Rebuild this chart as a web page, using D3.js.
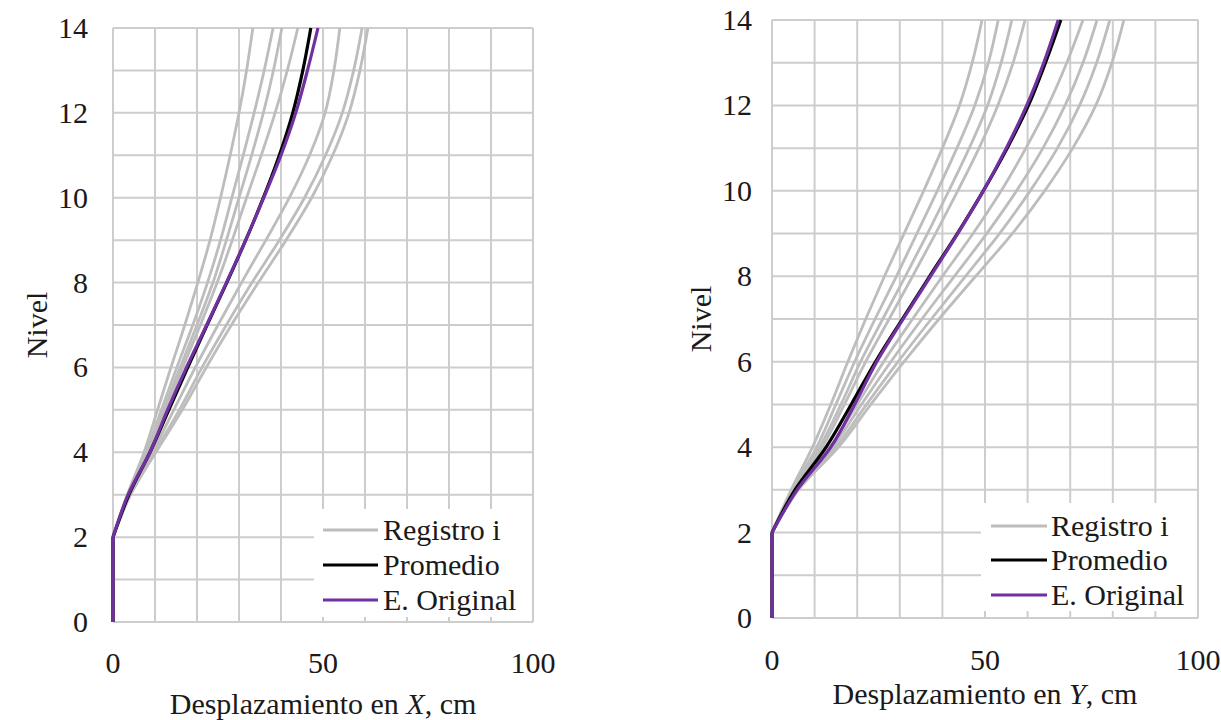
<!DOCTYPE html>
<html><head><meta charset="utf-8">
<script src="https://cdn.jsdelivr.net/npm/d3@7"></script>
<style>
html,body{margin:0;padding:0;background:#fff;}
svg{display:block;}
svg text{font-family:'Liberation Serif','Times New Roman','DejaVu Serif',serif;}
</style></head>
<body>
<svg id="c" width="1221" height="720"></svg>
<script>
// ---------------- DATA ----------------
const levels = [0,1,2,3,4,5,6,7,8,9,10,11,12,13,14];
const xTickLabels = [0,50,100];
const yTickLabels = [0,2,4,6,8,10,12,14];
const legendLabels = ["Registro i","Promedio","E. Original"];

// Panel X: desplazamiento en X (cm) per nivel
const regX1 = [0,0,0,3.4,7.4,10.6,13.8,17.1,20.2,23.1,25.6,27.9,30.0,31.8,33.3];
const regX2 = [0,0,0,3.5,7.9,11.5,15.2,19.0,22.5,25.6,28.3,31.0,33.6,36.0,38.1];
const regX3 = [0,0,0,3.6,8.2,12.0,16.0,20.0,23.8,27.0,30.0,33.0,35.8,38.2,40.2];
const regX4 = [0,0,0,3.7,8.5,12.4,16.6,20.8,24.8,28.4,31.8,35.3,38.6,41.5,44.0];
const regX5 = [0,0,0,4.0,9.4,14.5,19.6,25.0,30.6,36.4,42.0,46.8,50.5,52.6,54.0];
const regX6 = [0,0,0,4.1,9.9,15.8,21.2,27.0,33.1,39.6,45.6,50.6,54.6,57.3,59.3];
const regX7 = [0,0,0,4.2,10.2,16.5,22.2,28.2,34.6,41.2,47.3,52.3,56.2,58.8,60.7];
const promX = [0,0,0,3.8,8.8,13.3,17.8,22.4,27.1,31.6,35.8,39.6,42.8,45.2,47.1];
const origX = [0,0,0,3.6,8.8,13.0,17.5,22.3,27.0,31.6,35.9,40.0,43.5,46.3,48.8];

// Panel Y: desplazamiento en Y (cm) per nivel
const regY1 = [0,0,0,4.5,9.5,13.8,17.8,22.0,26.4,31.0,35.6,40.0,44.0,47.0,49.3];
const regY2 = [0,0,0,4.8,10.5,15.0,19.4,24.2,29.2,34.0,38.8,43.4,47.6,50.8,53.1];
const regY3 = [0,0,0,5.0,11.2,16.2,20.8,26.0,31.3,36.5,41.5,46.3,50.6,53.8,56.3];
const regY4 = [0,0,0,5.2,11.8,17.0,22.0,27.5,33.0,38.4,43.6,48.6,53.0,56.6,59.4];
const regY5 = [0,0,0,5.6,13.6,20.0,26.2,33.0,40.0,47.2,53.8,59.6,64.8,69.2,73.0];
const regY6 = [0,0,0,5.8,14.3,21.0,27.9,35.2,42.8,50.4,57.4,63.6,68.8,73.0,76.3];
const regY7 = [0,0,0,6.0,15.0,22.2,29.6,37.4,45.4,53.4,60.6,67.0,72.2,76.2,79.3];
const regY8 = [0,0,0,6.2,15.6,23.2,31.0,39.2,47.8,56.4,64.0,70.6,76.0,79.8,82.6];
const promY = [0,0,0,5.4,12.7,18.6,24.3,30.6,37.0,43.5,49.6,55.2,60.2,64.2,67.8];
const origY = [0,0,0,5.9,13.8,19.4,24.6,30.8,37.2,43.6,49.6,55.0,59.8,63.8,67.2];

// ---------------- DRAW ----------------
const svg = d3.select("#c");
const FONT = "'Liberation Serif','Times New Roman','DejaVu Serif',serif";
const FS = 30;
const colGray = "#bdbdbd", colBlack = "#000000", colPurple = "#7030a0", colGrid = "#cdcdcd", colText = "#1a1a1a";

const panels = [
  {regs:[regX1,regX2,regX3,regX4,regX5,regX6,regX7], prom:promX, orig:origX, axis:"X",
   xr:[113,533], yr:[622,28], yLabX:88, nivelX:36, xLabY:673, titleY:714,
   leg:{box:[314,509,218,108], lx:[323,378], tx:383, rows:[530,565,600]}},
  {regs:[regY1,regY2,regY3,regY4,regY5,regY6,regY7,regY8], prom:promY, orig:origY, axis:"Y",
   xr:[772,1198], yr:[618,20], yLabX:752, nivelX:700, xLabY:670, titleY:704,
   leg:{box:[981,503,216,108], lx:[991,1047], tx:1051, rows:[526,560,595]}}
];

panels.forEach(p => {
  const x = d3.scaleLinear().domain([0,100]).range(p.xr);
  const y = d3.scaleLinear().domain([0,14]).range(p.yr);
  const g = svg.append("g").attr("font-family", FONT);

  // grid
  g.selectAll(".vg").data(d3.range(0,101,10)).join("line")
    .attr("x1",d=>x(d)).attr("x2",d=>x(d)).attr("y1",y(0)).attr("y2",y(14))
    .attr("stroke",colGrid).attr("stroke-width",2);
  g.selectAll(".hg").data(d3.range(0,15,1)).join("line")
    .attr("x1",x(0)).attr("x2",x(100)).attr("y1",d=>y(d)).attr("y2",d=>y(d))
    .attr("stroke",colGrid).attr("stroke-width",2);

  // tick labels
  g.selectAll(".yt").data(yTickLabels).join("text")
    .attr("font-family", FONT)
    .attr("x",p.yLabX).attr("y",d=>y(d)+10).attr("text-anchor","end")
    .attr("font-size",FS).attr("fill",colText).text(d=>d);
  g.selectAll(".xt").data(xTickLabels).join("text")
    .attr("font-family", FONT)
    .attr("x",d=>x(d)).attr("y",p.xLabY).attr("text-anchor","middle")
    .attr("font-size",FS).attr("fill",colText).text(d=>d);

  // axis titles
  g.append("text").attr("font-family", FONT)
    .attr("transform",`translate(${p.nivelX},${(p.yr[0]+p.yr[1])/2}) rotate(-90)`)
    .attr("text-anchor","middle").attr("dy","0.35em").attr("font-size",FS).attr("fill",colText).text("Nivel");
  const t = g.append("text").attr("font-family", FONT).attr("x",(p.xr[0]+p.xr[1])/2).attr("y",p.titleY)
    .attr("text-anchor","middle").attr("font-size",FS).attr("fill",colText);
  t.append("tspan").text("Desplazamiento en ");
  t.append("tspan").attr("font-style","italic").text(p.axis);
  t.append("tspan").text(", cm");

  // curves: straight below level 2, smooth above
  const lineLin = d3.line().x(d=>x(d[0])).y(d=>y(d[1]));
  const lineSm = d3.line().x(d=>x(d[0])).y(d=>y(d[1])).curve(d3.curveMonotoneY);
  function drawSeries(vals, color, w){
    const pts = levels.map((l,i)=>[vals[i], l]);
    g.append("path").attr("d", lineLin(pts.filter(d=>d[1]<=2)))
      .attr("fill","none").attr("stroke",color).attr("stroke-width",w);
    g.append("path").attr("d", lineSm(pts.filter(d=>d[1]>=2)))
      .attr("fill","none").attr("stroke",color).attr("stroke-width",w)
      .attr("stroke-linejoin","round");
  }
  p.regs.forEach(r => drawSeries(r, colGray, 2.8));
  drawSeries(p.prom, colBlack, 3.2);
  drawSeries(p.orig, colPurple, 3.2);

  // legend
  const L = p.leg;
  g.append("rect").attr("x",L.box[0]).attr("y",L.box[1]).attr("width",L.box[2]).attr("height",L.box[3]).attr("fill","#fff");
  const lc = [colGray, colBlack, colPurple];
  legendLabels.forEach((lab,i)=>{
    g.append("line").attr("x1",L.lx[0]).attr("x2",L.lx[1]).attr("y1",L.rows[i]).attr("y2",L.rows[i])
      .attr("stroke",lc[i]).attr("stroke-width",3.2);
    g.append("text").attr("font-family", FONT).attr("x",L.tx).attr("y",L.rows[i]+10)
      .attr("font-size",30).attr("fill",colText).text(lab);
  });
});
</script>
</body></html>
